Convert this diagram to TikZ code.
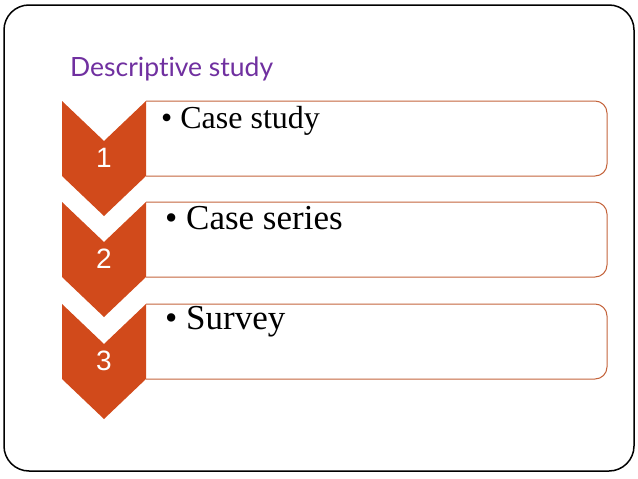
\documentclass[tikz,border=0pt]{standalone}
\usepackage{fontspec}
\setmainfont{Liberation Serif}
\newfontfamily\numfont{Liberation Sans}
\newfontfamily\titlefont[Ligatures={NoCommon,NoRare,NoDiscretionary}]{Lato}
\definecolor{chev}{RGB}{209,74,27}
\definecolor{boxline}{RGB}{196,100,60}
\definecolor{titlepurple}{RGB}{112,48,160}
\tikzset{
  chevshape/.style={fill=chev, draw=none},
  itembox/.style={draw=boxline, line width=1pt, rounded corners=12pt},
  numlabel/.style={text=white, font=\numfont\fontsize{28}{32}\selectfont, inner sep=0pt},
  itemtext/.style={anchor=base west, inner sep=0pt, text=black},
}
\begin{document}
\begin{tikzpicture}[x=1pt,y=-1pt]
\useasboundingbox (0,0) rectangle (638,479);
\fill[white] (0,0) rectangle (638,479);
\draw[black, line width=1.5pt, rounded corners=25pt] (4,5) rectangle (634,471);
\node[anchor=base west, inner sep=0pt, text=titlepurple, font=\titlefont\fontsize{26.5}{30}\selectfont] (title) at (70,76) {Descriptive study};
\foreach \i/\T/\txt/\fs/\bx/\by in {1/101/Case study/32/161/128, 2/202/Case series/35/165/229, 3/304/Survey/35/165/329}{
  \draw[itembox] (146,\T) -- (607,\T) -- (607,\T+75) -- (146,\T+75);
  \fill[chevshape] (62,\T) -- (104,\T+40) -- (146,\T) -- (146,\T+75) -- (104,\T+115) -- (62,\T+75) -- cycle;
  \node[numlabel] (num\i) at (104,\T+57) {\i};
  \node[itemtext, font=\fontsize{\fs}{\fs}\selectfont] (item\i) at (\bx,\by) {\textbullet\ \txt};
}
\end{tikzpicture}
\end{document}
